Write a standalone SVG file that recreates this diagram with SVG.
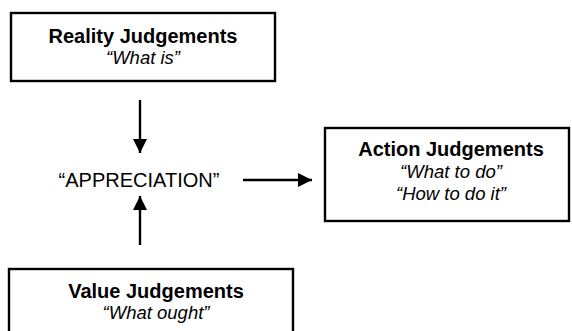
<svg xmlns="http://www.w3.org/2000/svg" width="572" height="331" viewBox="0 0 572 331">
  <style>
    .box { fill: #fff; stroke: #000; stroke-width: 2.4; }
    .title { font-family: "Liberation Sans", Arial, sans-serif; font-weight: bold; font-size: 20px; text-anchor: middle; fill: #000; }
    .quote { font-family: "Liberation Sans", Arial, sans-serif; font-style: italic; font-size: 18.5px; text-anchor: middle; fill: #000; }
    .center { font-family: "Liberation Sans", Arial, sans-serif; font-size: 20px; text-anchor: middle; fill: #000; }
    .link { stroke: #000; stroke-width: 2.4; fill: none; marker-end: url(#head); }
  </style>
  <defs>
    <marker id="head" viewBox="0 0 10 10" refX="10" refY="5" markerWidth="17" markerHeight="14" markerUnits="userSpaceOnUse" orient="auto">
      <path d="M0,0 L10,5 L0,10 z" fill="#000"/>
    </marker>
  </defs>
  <rect width="572" height="331" fill="#fff"/>

  <g id="reality">
    <rect class="box" x="11" y="13" width="264" height="68"/>
    <text class="title" x="143" y="43">Reality Judgements</text>
    <text class="quote" x="143" y="64">“What is”</text>
  </g>

  <g id="appreciation">
    <text class="center" x="139" y="187">“APPRECIATION”</text>
  </g>

  <g id="action">
    <rect class="box" x="325" y="128" width="244" height="93"/>
    <text class="title" x="451" y="156">Action Judgements</text>
    <text class="quote" x="451" y="178">“What to do”</text>
    <text class="quote" x="451" y="200">“How to do it”</text>
  </g>

  <g id="value">
    <rect class="box" x="9" y="269" width="284" height="70"/>
    <text class="title" x="156" y="298">Value Judgements</text>
    <text class="quote" x="156" y="319">“What ought”</text>
  </g>

  <g id="connectors">
    <line class="link" x1="140" y1="100" x2="140" y2="153"/>
    <line class="link" x1="140" y1="245" x2="140" y2="196"/>
    <line class="link" x1="243" y1="180" x2="312" y2="180"/>
  </g>
</svg>
